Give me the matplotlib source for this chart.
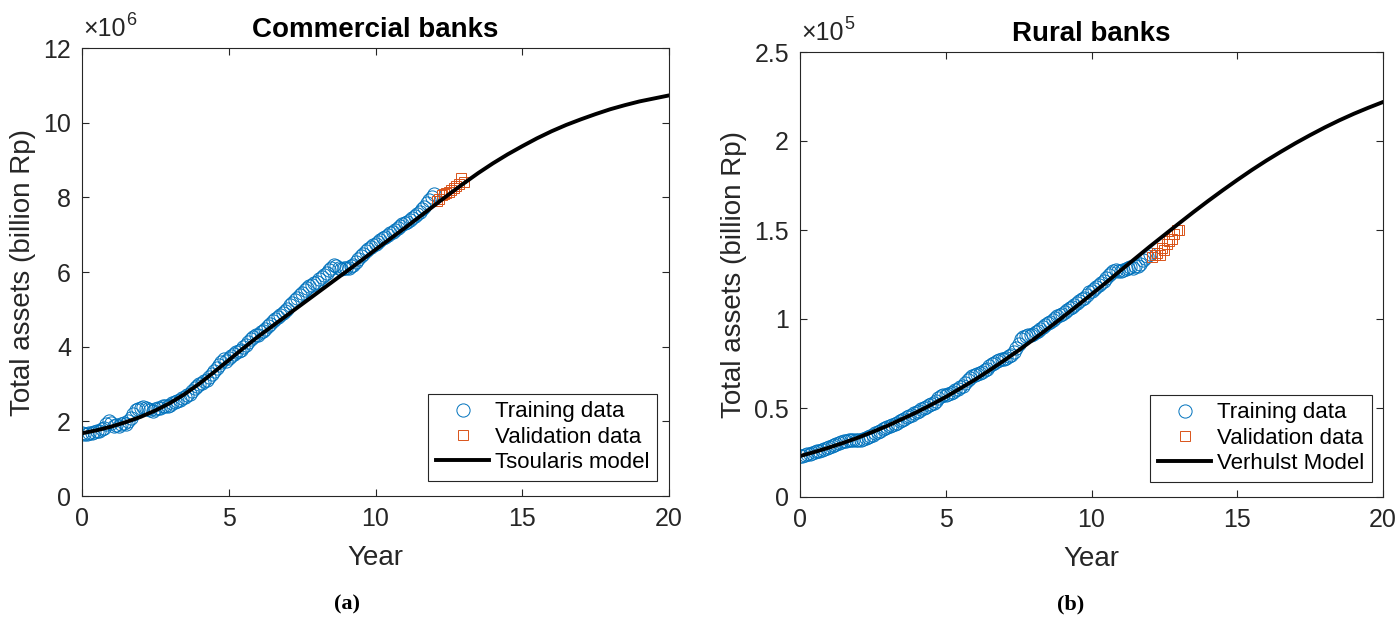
import numpy as np
import matplotlib
matplotlib.use('Agg')
import matplotlib.pyplot as plt
from matplotlib.ticker import FuncFormatter

plt.rcParams['font.family'] = ['Liberation Sans', 'DejaVu Sans']

# monthly data, commercial banks (x 10^6 billion Rp)
commercial_train = [
    1.68, 1.66, 1.67, 1.70, 1.69, 1.72, 1.74, 1.73,
    1.80, 1.82, 1.93, 2.00, 1.95,
    1.88, 1.90, 1.87, 1.92, 1.95, 1.93,
    2.00, 2.10, 2.20, 2.30, 2.33, 2.35, 2.38, 2.36, 2.34,
    2.30, 2.28, 2.33, 2.36, 2.35, 2.40, 2.42, 2.40, 2.45,
    2.50, 2.53, 2.55, 2.58, 2.62, 2.66, 2.70, 2.74, 2.80,
    2.88, 2.95, 3.00, 3.03, 3.08, 3.12, 3.20, 3.28, 3.35,
    3.42, 3.50, 3.60, 3.68, 3.62, 3.70,
    3.75, 3.80, 3.85, 3.88, 3.92, 3.98, 4.05, 4.12, 4.20, 4.25, 4.30, 4.32,
    4.38, 4.42, 4.48, 4.55, 4.62, 4.68, 4.75, 4.80, 4.85, 4.90, 4.95, 5.02,
    5.12, 5.18, 5.24, 5.30, 5.38, 5.45, 5.52, 5.58, 5.62, 5.66, 5.70, 5.74,
    5.80, 5.86, 5.92, 5.98, 6.05, 6.12, 6.18, 6.16, 6.10, 6.08, 6.10, 6.12,
    6.10, 6.15, 6.20, 6.28, 6.35, 6.42, 6.48, 6.55, 6.62, 6.68, 6.72, 6.75,
    6.80, 6.85, 6.90, 6.95, 7.00, 7.05, 7.08, 7.12, 7.18, 7.22, 7.28, 7.32,
    7.35, 7.40, 7.45, 7.50, 7.55, 7.62, 7.68, 7.75, 7.85, 7.92, 8.00, 8.08,
]
commercial_valid = [7.90, 7.95, 8.05, 8.10, 8.12, 8.15, 8.20, 8.25, 8.30, 8.35, 8.52, 8.40]
# Tsoularis model, every half year from 0 to 20
commercial_model = [
    1.68, 1.76, 1.86, 1.98, 2.12, 2.29, 2.49, 2.73, 3.01, 3.32,
    3.64, 3.96, 4.27, 4.56, 4.85, 5.14, 5.43, 5.72, 6.01, 6.30,
    6.60, 6.89, 7.18, 7.48, 7.78, 8.08, 8.37, 8.65, 8.91, 9.15,
    9.37, 9.58, 9.77, 9.94, 10.09, 10.23, 10.36, 10.47, 10.57, 10.65,
    10.73,
]

# monthly data, rural banks (x 10^5 billion Rp)
rural_train = [
    0.230, 0.232, 0.236, 0.240, 0.244, 0.248, 0.252, 0.256, 0.260, 0.265, 0.270, 0.275,
    0.280, 0.286, 0.292, 0.300, 0.305, 0.310, 0.312, 0.315, 0.318, 0.320, 0.322, 0.322,
    0.320, 0.322, 0.325, 0.330, 0.336, 0.342, 0.350, 0.358, 0.365, 0.372, 0.380, 0.388,
    0.394, 0.400, 0.405, 0.412, 0.418, 0.425, 0.432, 0.440, 0.448, 0.455, 0.462, 0.470,
    0.478, 0.485, 0.492, 0.500, 0.508, 0.515, 0.522, 0.530, 0.540, 0.555, 0.570, 0.575,
    0.575, 0.580, 0.585, 0.592, 0.600, 0.608, 0.616, 0.625, 0.640, 0.655, 0.670, 0.680,
    0.685, 0.690, 0.695, 0.705, 0.712, 0.720, 0.735, 0.745, 0.755, 0.762, 0.770, 0.775,
    0.778, 0.782, 0.790, 0.800, 0.815, 0.835, 0.860, 0.885, 0.900, 0.905, 0.908, 0.912,
    0.918, 0.925, 0.935, 0.945, 0.955, 0.965, 0.975, 0.985, 0.995, 1.005, 1.015, 1.022,
    1.030, 1.040, 1.050, 1.060, 1.070, 1.080, 1.090, 1.100, 1.110, 1.120, 1.135, 1.150,
    1.160, 1.170, 1.180, 1.190, 1.200, 1.215, 1.230, 1.245, 1.260, 1.270, 1.275, 1.272,
    1.270, 1.275, 1.280, 1.285, 1.290, 1.288, 1.295, 1.300, 1.310, 1.330, 1.345, 1.355, 1.365,
]
rural_valid = [1.35, 1.36, 1.37, 1.36, 1.40, 1.39, 1.42, 1.44, 1.45, 1.48, 1.50, 1.50]
# Verhulst model, every half year from 0 to 20
rural_model = [
    0.230, 0.253, 0.278, 0.305, 0.334, 0.366, 0.400, 0.438, 0.476, 0.518,
    0.562, 0.610, 0.659, 0.712, 0.767, 0.824, 0.884, 0.946, 1.009, 1.073,
    1.139, 1.205, 1.273, 1.340, 1.407, 1.472, 1.537, 1.601, 1.663, 1.723,
    1.781, 1.837, 1.890, 1.940, 1.988, 2.033, 2.076, 2.116, 2.153, 2.187,
    2.219,
]

BLUE = '#0072BD'
ORANGE = '#D95319'
GREY = '#262626'


def draw_panel(ax, train, valid, model, title, model_name, ymax, ystep, power, legend_anchor):
    n = len(train)
    t_train = np.arange(n) / 12.0
    t_valid = np.arange(n, n + len(valid)) / 12.0
    t_model = np.arange(len(model)) * 0.5

    ax.plot(t_train, train, 'o', mfc='none', mec=BLUE, ms=9.5, mew=0.7, label='Training data')
    ax.plot(t_valid, valid, 's', mfc='none', mec=ORANGE, ms=7, mew=0.7, label='Validation data')
    ax.plot(t_model, model, '-', color='black', lw=2.8, label=model_name)

    ax.set_xlim(0, 20)
    ax.set_ylim(0, ymax)
    ax.set_xticks([0, 5, 10, 15, 20])
    ax.set_yticks(np.arange(0, ymax + ystep / 2, ystep))
    ax.yaxis.set_major_formatter(FuncFormatter(lambda v, p: '%g' % round(v, 3)))
    ax.tick_params(direction='in', top=True, right=True, length=5, width=0.8,
                   labelsize=18, colors=GREY, pad=8)
    for s in ax.spines.values():
        s.set_color(GREY)
        s.set_linewidth(0.8)

    ax.set_title(title, fontsize=20, fontweight='bold', pad=8)
    ax.set_xlabel('Year', fontsize=20, color=GREY, labelpad=10)
    ax.set_ylabel('Total assets (billion Rp)', fontsize=20, color=GREY, labelpad=5)

    # exponent label above the y axis, MATLAB style
    ax.annotate('\u00d710', xy=(0, 1), xycoords='axes fraction',
                xytext=(1, 5), textcoords='offset points', fontsize=18, color=GREY,
                ha='left', va='bottom')
    ax.annotate(str(power), xy=(0, 1), xycoords='axes fraction',
                xytext=(32, 14), textcoords='offset points', fontsize=13, color=GREY,
                ha='left', va='bottom')

    leg = ax.legend(loc='lower right', bbox_to_anchor=legend_anchor, borderaxespad=0,
                    fontsize=16, fancybox=False, framealpha=1, edgecolor=GREY,
                    handlelength=2.4, handletextpad=0.25, labelspacing=0.2, borderpad=0.35)
    leg.get_frame().set_linewidth(0.8)
    for txt in leg.get_texts():
        txt.set_color('black')


fig = plt.figure(figsize=(13.99, 6.17), dpi=100)
ax1 = fig.add_axes([82 / 1399, 121 / 617, 587 / 1399, 448 / 617])
ax2 = fig.add_axes([800 / 1399, 120 / 617, 583 / 1399, 445 / 617])

draw_panel(ax1, commercial_train, commercial_valid, commercial_model,
           'Commercial banks', 'Tsoularis model', 12, 2, 6, (0.9796, 0.0335))
draw_panel(ax2, rural_train, rural_valid, rural_model,
           'Rural banks', 'Verhulst Model', 2.5, 0.5, 5, (0.981, 0.0337))

fig.text(347 / 1399, 1 - 604 / 617, '(a)', fontsize=16, fontweight='bold',
         family='Liberation Serif', ha='center', va='center')
fig.text(1071 / 1399, 1 - 604 / 617, '(b)', fontsize=16, fontweight='bold',
         family='Liberation Serif', ha='center', va='center')

fig.savefig('out.png', dpi=100)
